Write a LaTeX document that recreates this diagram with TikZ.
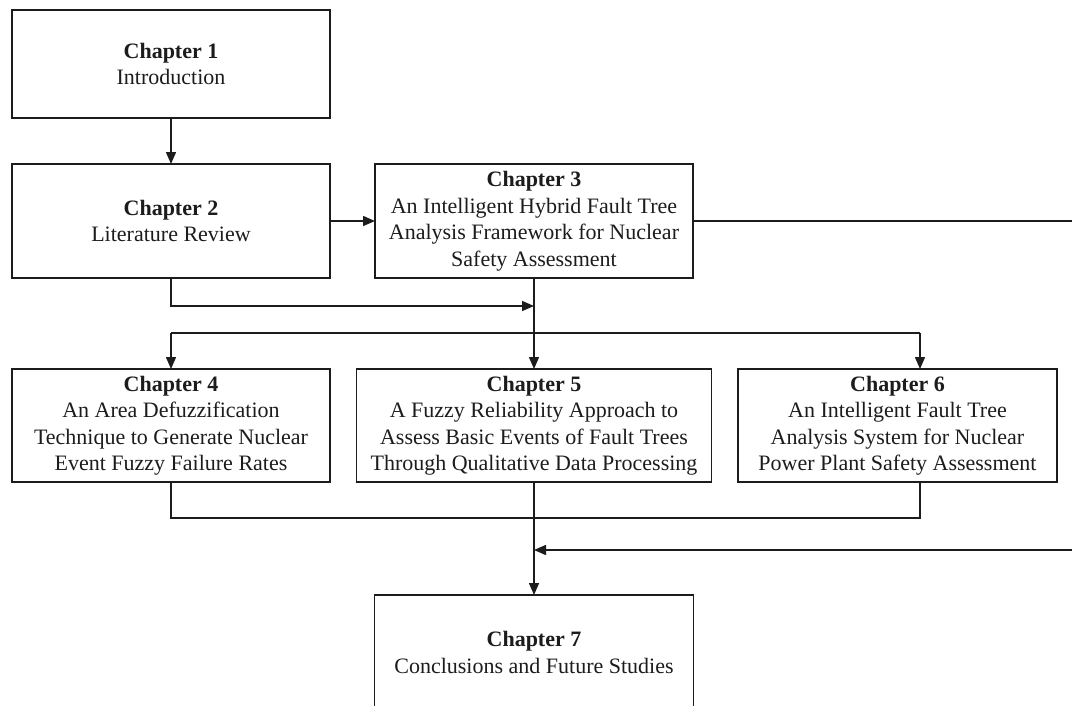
\documentclass[tikz,border=0pt]{standalone}
\usepackage{fontspec}
\setmainfont{Liberation Serif}
\usetikzlibrary{arrows.meta,calc}
\begin{document}
\begin{tikzpicture}[x=1pt,y=-1pt,
  every node/.style={inner sep=0pt,outer sep=0pt},
  chapbox/.style={draw=ink,line width=1.5pt,fill=white,align=center,
    font=\fontsize{22}{26.5}\selectfont,text=ink},
  link/.style={draw=ink,line width=1.5pt},
  arr/.style={link,-{Triangle[length=12pt,width=10pt]}}]
\definecolor{ink}{HTML}{1C1C1C}
\useasboundingbox (0,0) rectangle (1072,705);
\clip (0,0) rectangle (1072,705);
\fill[white] (0,0) rectangle (1072,705);

% chapter boxes
\node[chapbox,minimum width=318pt,minimum height=108pt] (c1) at (171,64)
  {\textbf{Chapter 1}\\Introduction};
\node[chapbox,minimum width=318pt,minimum height=114pt] (c2) at (171,221)
  {\textbf{Chapter 2}\\Literature Review};
\node[chapbox,minimum width=318pt,minimum height=114pt] (c3) at (534,221)
  {\textbf{Chapter 3}\\An Intelligent Hybrid Fault Tree\\Analysis Framework for Nuclear\\Safety Assessment};
\node[chapbox,minimum width=318pt,minimum height=113pt] (c4) at (171,425.5)
  {\textbf{Chapter 4}\\An Area Defuzzification\\Technique to Generate Nuclear\\Event Fuzzy Failure Rates};
\node[chapbox,minimum width=355pt,minimum height=113pt] (c5) at (534,425.5)
  {\textbf{Chapter 5}\\A Fuzzy Reliability Approach to\\Assess Basic Events of Fault Trees\\Through Qualitative Data Processing};
\node[chapbox,minimum width=319pt,minimum height=113pt] (c6) at (897.5,425.5)
  {\textbf{Chapter 6}\\An Intelligent Fault Tree\\Analysis System for Nuclear\\Power Plant Safety Assessment};
\node[chapbox,minimum width=319pt,minimum height=115pt] (c7) at (534,652.5)
  {\textbf{Chapter 7}\\Conclusions and Future Studies};

% junction points
\coordinate (rA) at (1072,221);
\coordinate (j1) at (534,306);
\coordinate (b4) at (171,333);
\coordinate (b6) at (920,333);
\coordinate (m6) at (920,518);
\coordinate (rB) at (1072,550);
\coordinate (j2) at (534,550);

% connectors
\draw[arr] (c1) -- (c2);
\draw[arr] (c2.east) -- (c3.west);
\draw[link] (c3.east) -- (rA);
\draw[arr] (c2.south) |- (j1);
\draw[arr] (c3.south) -- (c5.north);
\draw[link] (b4) -- (b6);
\draw[arr] (b4) -- (c4.north);
\draw[arr] (b6) -- (b6 |- c6.north);
\draw[link] (c4.south) |- (m6) -- (m6 |- c6.south);
\draw[arr] (c5.south) -- (c7.north);
\draw[arr] (rB) -- (j2);
\end{tikzpicture}
\end{document}
